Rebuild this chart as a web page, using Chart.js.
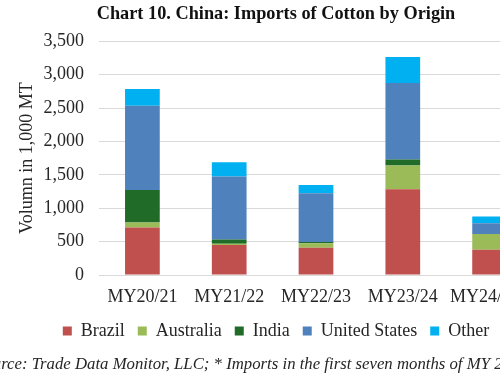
<!DOCTYPE html>
<html>
<head>
<meta charset="utf-8">
<script src="https://cdn.jsdelivr.net/npm/chart.js@4.4.1/dist/chart.umd.min.js"></script>
<style>
  html, body { margin: 0; padding: 0; background: #fff; overflow: hidden; width: 500px; height: 383px; }
  #wrap { position: absolute; left: 0; top: 0; width: 550px; height: 383px; }
  #src { position: absolute; left: -24px; top: 354px; white-space: nowrap;
         font-family: "Liberation Serif", serif; font-style: italic; font-size: 16.75px; color: #262626; }
</style>
</head>
<body>
<div id="wrap"><canvas id="c" width="550" height="383"></canvas></div>
<div id="src">Source: Trade Data Monitor, LLC; * Imports in the first seven months of MY 2024/25</div>
<script>
const categories = ["MY20/21", "MY21/22", "MY22/23", "MY23/24", "MY24/25*"];
const brazil       = [710, 450, 410, 1285, 380];
const australia    = [75, 20, 65, 355, 235];
const india        = [490, 60, 20, 90, 0];
const unitedStates = [1260, 945, 730, 1145, 160];
const other        = [250, 215, 125, 390, 100];
const yTicks = [0, 500, 1000, 1500, 2000, 2500, 3000, 3500];

const FONT = "'Liberation Serif', 'Times New Roman', serif";
const TXT = '#262626';

new Chart(document.getElementById('c'), {
  type: 'bar',
  data: {
    labels: categories,
    datasets: [
      { label: 'Brazil', data: brazil, backgroundColor: '#C0504D' },
      { label: 'Australia', data: australia, backgroundColor: '#9BBB59' },
      { label: 'India', data: india, backgroundColor: '#1F6B27' },
      { label: 'United States', data: unitedStates, backgroundColor: '#4F81BD' },
      { label: 'Other', data: other, backgroundColor: '#00B0F0' }
    ]
  },
  options: {
    responsive: false,
    animation: false,
    layout: { padding: { top: 0, left: 19, right: 17, bottom: 33 } },
    datasets: { bar: { categoryPercentage: 1, barPercentage: 0.4, borderWidth: 0 } },
    plugins: {
      title: {
        display: true,
        text: 'Chart 10. China: Imports of Cotton by Origin',
        color: '#111',
        font: { family: FONT, size: 18.3, weight: 'bold' },
        padding: { top: 3, bottom: 16.4 }
      },
      legend: {
        position: 'bottom',
        labels: {
          boxWidth: 9, boxHeight: 9, padding: 13,
          color: TXT,
          font: { family: FONT, size: 18 }
        }
      },
      tooltip: { enabled: false }
    },
    scales: {
      x: {
        stacked: true,
        afterFit: (s) => { s.height = 34; },
        grid: { display: false },
        border: { display: false },
        ticks: { color: TXT, font: { family: FONT, size: 18 }, padding: 3, maxRotation: 0, autoSkip: false }
      },
      y: {
        stacked: true,
        min: 0, max: 3500,
        afterBuildTicks: (s) => { s.ticks = yTicks.map(v => ({ value: v })); },
        afterFit: (s) => { s.width = 80; },
        grid: { color: '#D9D9D9', lineWidth: 1, drawTicks: false },
        border: { display: false },
        ticks: {
          color: TXT, font: { family: FONT, size: 18 }, padding: 15,
          callback: (v) => v.toLocaleString('en-US')
        },
        title: {
          display: true, text: 'Volumn in 1,000 MT', color: TXT,
          font: { family: FONT, size: 18 }, padding: { top: -3, bottom: 0 }
        }
      }
    }
  }
});
</script>
</body>
</html>
